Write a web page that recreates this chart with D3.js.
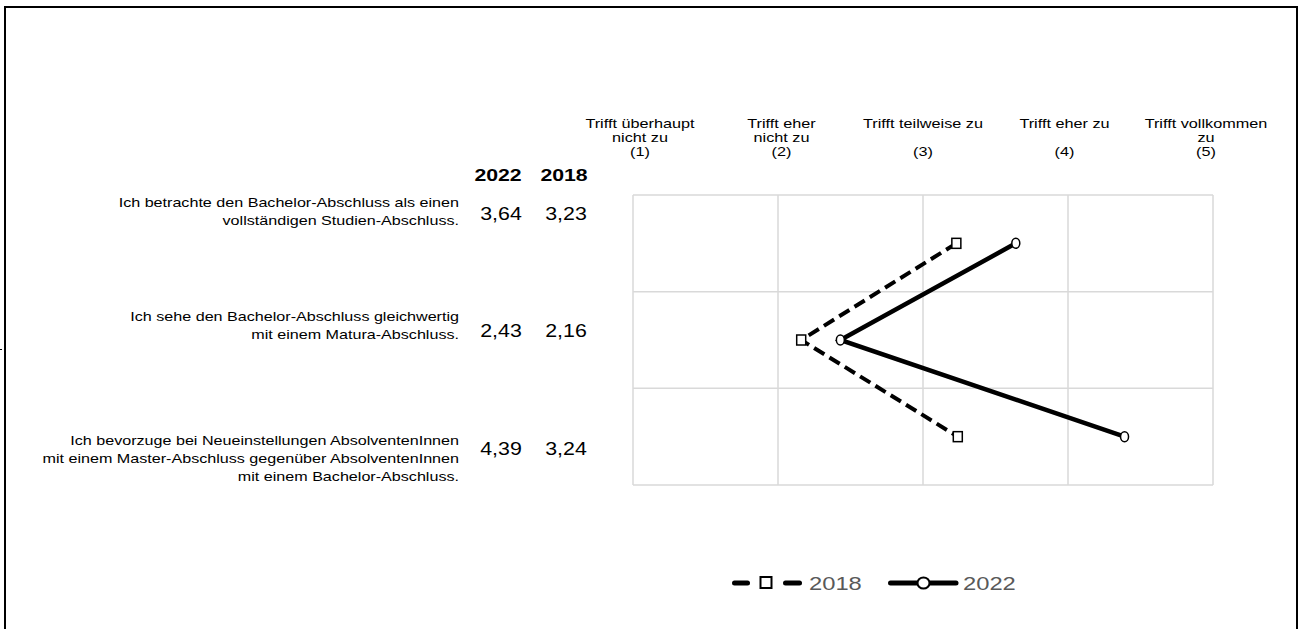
<!DOCTYPE html>
<html><head><meta charset="utf-8">
<script src="https://cdn.jsdelivr.net/npm/d3@7"></script>
<style>
html,body{margin:0;padding:0;background:#fff;}
svg{display:block;font-family:"Liberation Sans",Arial,sans-serif;}
</style></head>
<body><svg id="c" width="1301" height="629"></svg>
<script>
const statements = [
  ["Ich betrachte den Bachelor-Abschluss als einen", "vollständigen Studien-Abschluss."],
  ["Ich sehe den Bachelor-Abschluss gleichwertig", "mit einem Matura-Abschluss."],
  ["Ich bevorzuge bei Neueinstellungen AbsolventenInnen", "mit einem Master-Abschluss gegenüber AbsolventenInnen", "mit einem Bachelor-Abschluss."]
];
const values2022 = [3.64, 2.43, 4.39];
const values2018 = [3.23, 2.16, 3.24];
const valueLabels2022 = ["3,64", "2,43", "4,39"];
const valueLabels2018 = ["3,23", "2,16", "3,24"];
const scaleLabels = [
  ["Trifft überhaupt", "nicht zu", "(1)"],
  ["Trifft eher", "nicht zu", "(2)"],
  ["Trifft teilweise zu", "", "(3)"],
  ["Trifft eher zu", "", "(4)"],
  ["Trifft vollkommen", "zu", "(5)"]
];
const scaleTicks = [1, 2, 3, 4, 5];
const seriesNames = ["2018", "2022"];

const svg = d3.select("#c");
const SX = 1.25;
// horizontally stretched text anchored at ax
function stext(parent, ax, sx) {
  return parent.append("g").attr("transform", `translate(${ax},0) scale(${sx},1)`).append("text");
}

// frame
svg.append("path").attr("d", "M5,630 V7 H1297 V630").attr("fill", "none").attr("stroke", "#000").attr("stroke-width", 2);
svg.append("line").attr("x1", 0).attr("x2", 2).attr("y1", 349.5).attr("y2", 349.5).attr("stroke", "#000").attr("stroke-width", 1);

const x = d3.scaleLinear().domain([1, 5]).range([633, 1213]);
const y = d3.scaleBand().domain(d3.range(statements.length)).range([195, 485]);

// grid
const g = svg.append("g");
g.selectAll("line.v").data(scaleTicks).join("line")
  .attr("x1", d => x(d)).attr("x2", d => x(d)).attr("y1", 195).attr("y2", 485)
  .attr("stroke", "#d9d9d9").attr("stroke-width", 1.5);
const hLines = d3.range(statements.length + 1).map(i => i === statements.length ? 485 : y(i));
g.selectAll("line.h").data(hLines).join("line")
  .attr("x1", 633).attr("x2", 1213).attr("y1", d => d).attr("y2", d => d)
  .attr("stroke", "#d9d9d9").attr("stroke-width", 1.5);

// header labels
const hx = d3.scalePoint().domain(scaleTicks).range([640, 1206]);
scaleLabels.forEach((lines, i) => {
  const t = stext(svg, hx(scaleTicks[i]), 1.3).attr("text-anchor", "middle").attr("font-size", 12.5).attr("fill", "#000");
  lines.forEach((l, j) => {
    if (l === "") return;
    t.append("tspan").attr("x", 0).attr("y", 128 + j * 14).text(l);
  });
});

// column headers
stext(svg, 498, SX).attr("y", 181).attr("text-anchor", "middle").attr("font-size", 17).attr("font-weight", "bold").text(seriesNames[1]);
stext(svg, 564, SX).attr("y", 181).attr("text-anchor", "middle").attr("font-size", 17).attr("font-weight", "bold").text(seriesNames[0]);

// statements and values
const stmtY = [207, 321, 445];
const valY = [220, 337, 455];
statements.forEach((lines, i) => {
  const t = stext(svg, 459, 1.27).attr("text-anchor", "end").attr("font-size", 12.7).attr("fill", "#000");
  lines.forEach((l, j) => t.append("tspan").attr("x", 0).attr("y", stmtY[i] + j * 18).text(l));
  stext(svg, 501, 1.2).attr("y", valY[i]).attr("text-anchor", "middle").attr("font-size", 17.8).text(valueLabels2022[i]);
  stext(svg, 566, 1.2).attr("y", valY[i]).attr("text-anchor", "middle").attr("font-size", 17.8).text(valueLabels2018[i]);
});

const cy = i => y(i) + y.bandwidth() / 2;
const line = d3.line().x(d => x(d.v)).y(d => cy(d.i));

const d18 = values2018.map((v, i) => ({v, i}));
const d22 = values2022.map((v, i) => ({v, i}));

svg.append("path").datum(d18).attr("d", line).attr("fill", "none").attr("stroke", "#000")
  .attr("stroke-width", 4).attr("stroke-dasharray", "12,6");
svg.append("path").datum(d22).attr("d", line).attr("fill", "none").attr("stroke", "#000")
  .attr("stroke-width", 4.5);

svg.selectAll("rect.m18").data(d18).join("rect")
  .attr("x", d => x(d.v) - 4.5).attr("y", d => cy(d.i) - 5).attr("width", 9).attr("height", 10)
  .attr("fill", "#fff").attr("stroke", "#000").attr("stroke-width", 1.5);
svg.selectAll("ellipse.m22").data(d22).join("ellipse")
  .attr("cx", d => x(d.v)).attr("cy", d => cy(d.i)).attr("rx", 4).attr("ry", 5)
  .attr("fill", "#fff").attr("stroke", "#000").attr("stroke-width", 1.5);

// legend
const ly = 583;
const lg = svg.append("g");
[[734.5, 747.5], [785.5, 799.5]].forEach(s => lg.append("line").attr("x1", s[0]).attr("x2", s[1]).attr("y1", ly).attr("y2", ly)
  .attr("stroke", "#000").attr("stroke-width", 5).attr("stroke-linecap", "round"));
lg.append("rect").attr("x", 760.5).attr("y", ly - 6).attr("width", 11).attr("height", 11)
  .attr("fill", "#fff").attr("stroke", "#000").attr("stroke-width", 2);
stext(lg, 809, SX).attr("y", ly + 7).attr("font-size", 19).attr("fill", "#595959").text(seriesNames[0]);
lg.append("line").attr("x1", 890.5).attr("x2", 956).attr("y1", ly).attr("y2", ly)
  .attr("stroke", "#000").attr("stroke-width", 5).attr("stroke-linecap", "round");
lg.append("ellipse").attr("cx", 923.5).attr("cy", ly).attr("rx", 6).attr("ry", 5.5)
  .attr("fill", "#fff").attr("stroke", "#000").attr("stroke-width", 2);
stext(lg, 963, SX).attr("y", ly + 7).attr("font-size", 19).attr("fill", "#595959").text(seriesNames[1]);
</script></body></html>
